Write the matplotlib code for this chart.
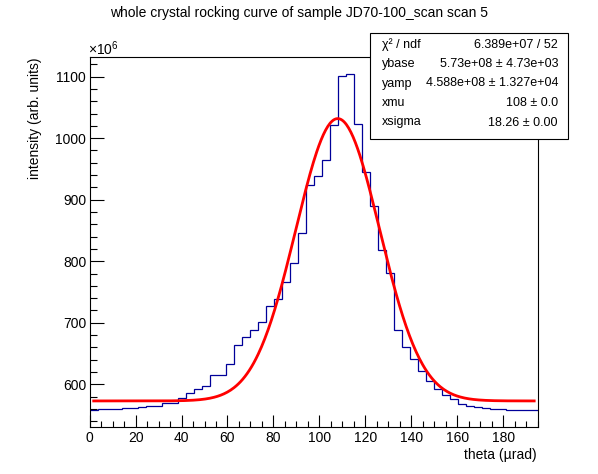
import numpy as np
import matplotlib
matplotlib.use("Agg")
import matplotlib.pyplot as plt
from matplotlib.patches import Rectangle

plt.rcParams["font.family"] = ["Liberation Sans", "DejaVu Sans"]
plt.rcParams["mathtext.fontset"] = "custom"
plt.rcParams["mathtext.rm"] = "Liberation Sans"

# histogram: 56 bins over 0..195.3 urad, contents in units of 1e6
x_min, x_max = 0.0, 195.3
counts = [
    558.6, 559.7, 559.7, 559.7, 561.3, 561.3, 563.6, 565.5, 565.5, 570.3,
    570.3, 578.5, 585.3, 593.2, 596.5, 614.4, 614.4, 632.3, 663.3, 676.3,
    687.5, 700.8, 726.7, 738.3, 765.8, 797.3, 846.2, 923.8, 938.0, 964.0,
    1021.6, 1101.6, 1104.8, 1023.0, 945.0, 889.0, 818.5, 780.5, 687.5, 661.4,
    641.9, 622.3, 606.0, 593.0, 583.2, 576.7, 568.5, 565.2, 563.6, 562.0,
    560.4, 560.4, 558.8, 558.8, 558.8, 558.8,
]

# gaussian fit results
ybase = 5.73e8
yamp = 4.588e8
xmu = 108.0
xsigma = 18.26

stats_labels = ["χ² / ndf", "ybase", "yamp", "xmu", "xsigma"]
stats_values = ["6.389e+07 / 52", "5.73e+08 ± 4.73e+03",
                "4.588e+08 ± 1.327e+04", "108 ± 0.0", "18.26 ± 0.00"]

title = "whole crystal rocking curve of sample JD70-100_scan scan 5"

W, H = 598, 474
fig = plt.figure(figsize=(W / 100, H / 100), dpi=100)
ax = fig.add_axes([0.15, 0.10, 0.75, 0.78])

edges = np.linspace(x_min, x_max, len(counts) + 1)
ax.stairs(counts, edges, color="#000099", lw=0.9, baseline=None)

# fit curve drawn between the first and last bin centres
half = (edges[1] - edges[0]) / 2
xf = np.linspace(edges[0] + half, edges[-1] - half, 400)
yf = ybase + yamp * np.exp(-0.5 * ((xf - xmu) / xsigma) ** 2)
ax.plot(xf, yf / 1e6, color="#ff0000", lw=2.0)

lo, hi = min(counts), max(counts)
ax.set_xlim(x_min, x_max)
ax.set_ylim(lo - 0.05 * (hi - lo), hi + 0.05 * (hi - lo))

ax.set_xticks(np.arange(0, 181, 20))
ax.set_xticks(np.arange(0, 196, 5), minor=True)
ax.set_yticks(np.arange(600, 1101, 100))
ax.set_yticks(np.arange(540, 1131, 20), minor=True)
ax.tick_params(which="both", direction="in", top=False, right=False,
               labelsize=10, width=0.8)
ax.tick_params(axis="x", which="major", length=8.5, pad=3.5)
ax.tick_params(axis="x", which="minor", length=4.3)
ax.tick_params(axis="y", which="major", length=10, pad=2.5)
ax.tick_params(axis="y", which="minor", length=5)
for s in ax.spines.values():
    s.set_linewidth(0.8)

fig.text(537 / W, 1 - 455 / H, "theta (µrad)", ha="right", va="center", fontsize=10)
fig.text(35 / W, 0.879, "intensity (arb. units)", rotation=90,
         ha="center", va="top", fontsize=10)
fig.text(88 / W, 1 - 49 / H, r"$\mathregular{\times10^{6}}$", ha="left",
         va="center", fontsize=10)
fig.text(0.5, 1 - 13 / H, title, ha="center", va="center", fontsize=10)

# stats box
bx0, by0, bx1, by1 = 370, 33, 568, 139
fig.patches.append(Rectangle((bx0 / W, 1 - by1 / H), (bx1 - bx0) / W,
                             (by1 - by0) / H, transform=fig.transFigure,
                             facecolor="white", edgecolor="black", lw=0.8,
                             zorder=5))
for i, (lab, val) in enumerate(zip(stats_labels, stats_values)):
    yy = 1 - (44.5 + 19.5 * i) / H
    fig.text(382 / W, yy, lab, ha="left", va="center", fontsize=9, zorder=6)
    fig.text(558 / W, yy, val, ha="right", va="center", fontsize=9, zorder=6)

fig.savefig("out.png", dpi=100)
